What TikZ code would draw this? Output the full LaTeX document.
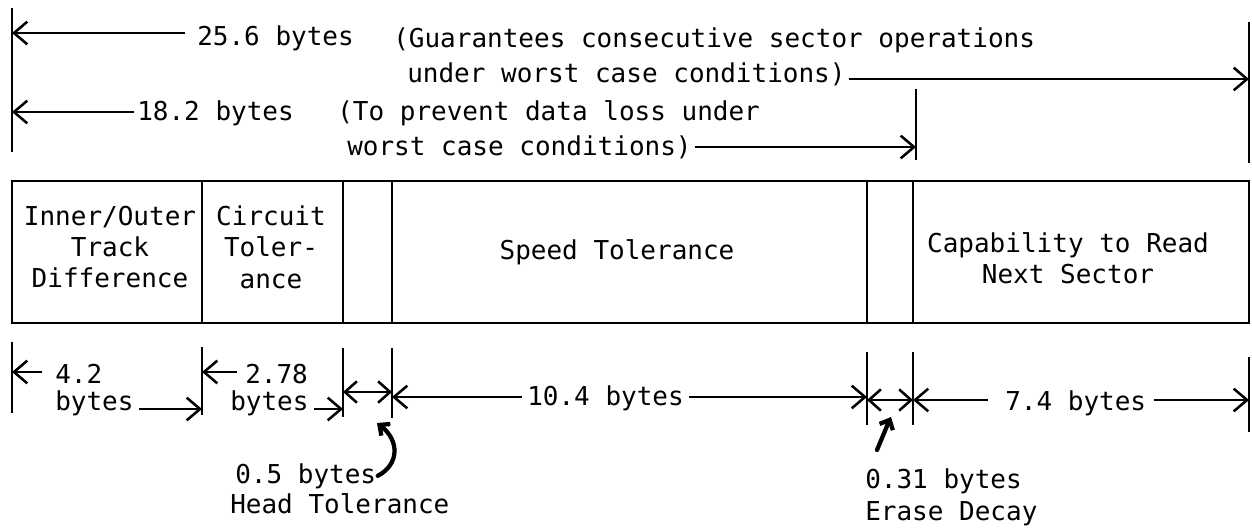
\documentclass[tikz,border=0pt]{standalone}
\usepackage{fontspec}
\newfontfamily\monofam{DejaVu Sans Mono}
\usetikzlibrary{arrows.meta}
\begin{document}
\begin{tikzpicture}[x=0.75pt,y=-0.75pt,
  lbl/.style={inner sep=0pt, font=\monofam\fontsize{19.5}{26}\selectfont},
  boxtext/.style={inner sep=0pt, align=center, font=\monofam\fontsize{19.5}{23.5}\selectfont},
  tick/.style={line width=2.2pt},
  dim/.style={line width=1.9pt},
  tip/.style={-{Straight Barb[length=10pt,width=17pt]}},
  tiptwo/.style={{Straight Barb[length=9pt,width=16pt]}-{Straight Barb[length=9pt,width=16pt]}},
  curv/.style={line width=3.2pt, line cap=round, -{Straight Barb[length=6pt,width=11pt]}},
  cell/.style={draw, line width=2.2pt, inner sep=0pt, outer sep=0pt, anchor=north west, minimum height=106.5pt}
]
\useasboundingbox (0,0) rectangle (1252,529);

% ---------- top dimension lines ----------
\coordinate (LT) at (12,33);
\coordinate (LM) at (12,112);
\coordinate (RT) at (1249,79);
\coordinate (RM) at (916,147);
\draw[tick] (12,8) -- (12,152);
\draw[tick] (1249,22) -- (1249,163);
\draw[tick] (916,89) -- (916,160);

\node[lbl, anchor=base west] (n256) at (197,45) {25.6 bytes};
\node[lbl, anchor=base west] (g1) at (393,47) {(Guarantees consecutive sector operations};
\node[lbl, anchor=base west] (g2) at (407,82) {under worst case conditions)};
\draw[dim, tip, shorten <=9pt] (n256.west |- LT) -- (LT);
\draw[dim, tip, shorten <=2pt] (g2.east |- RT) -- (RT);

\node[lbl, anchor=base west] (n182) at (137,120) {18.2 bytes};
\node[lbl, anchor=base west] (p1) at (337,120) {(To prevent data loss under};
\node[lbl, anchor=base west] (p2) at (347,155) {worst case conditions)};
\draw[dim, tip, shorten <=2pt] (n182.west |- LM) -- (LM);
\draw[dim, tip, shorten <=2pt] (p2.east |- RM) -- (RM);

% ---------- sector box ----------
\node[cell, minimum width=142.5pt] (c1) at (12,181) {};
\node[cell, minimum width=105.75pt] (c2) at (c1.north east) {};
\node[cell, minimum width=36.75pt] (c3) at (c2.north east) {};
\node[cell, minimum width=356.25pt] (c4) at (c3.north east) {};
\node[cell, minimum width=34.5pt] (c5) at (c4.north east) {};
\node[cell, minimum width=252pt] (c6) at (c5.north east) {};

\node[boxtext] (t1) at (110,247) {Inner/Outer\\Track\\Difference};
\node[boxtext] (t2) at (271,247) {Circuit\\Toler-\\ance};
\node[boxtext] (t4) at (617,252) {Speed Tolerance};
\node[boxtext] (t6) at (1068,258) {Capability to Read\\Next Sector};

% ---------- bottom dimension lines ----------
\draw[tick] (12,342) -- (12,413);
\draw[tick] (202,347) -- (202,415);
\draw[tick] (343,348) -- (343,417);
\draw[tick] (392,348) -- (392,418);
\draw[tick] (867,352) -- (867,425);
\draw[tick] (913,352) -- (913,425);
\draw[tick] (1249,357) -- (1249,432);

\coordinate (a0) at (12,372);
\coordinate (a1u) at (202,372);
\coordinate (a1l) at (202,409);
\coordinate (a2l) at (343,409);
\coordinate (h0) at (343,392);
\coordinate (h1) at (392,392);
\coordinate (s0) at (392,397);
\coordinate (s1) at (867,397);
\coordinate (e0) at (867,400);
\coordinate (e1) at (913,400);
\coordinate (r0) at (913,400);
\coordinate (r1) at (1249,400);

\node[lbl, anchor=base west] (d42) at (55,383) {4.2};
\node[lbl, anchor=base west] (d42b) at (55,410) {bytes};
\draw[dim, tip, shorten <=9.5pt] (d42.west |- a0) -- (a0);
\draw[dim, tip, shorten <=4pt] (d42b.east |- a1l) -- (a1l);

\node[lbl, anchor=base west] (d278) at (245,383) {2.78};
\node[lbl, anchor=base west] (d278b) at (230,410) {bytes};
\draw[dim, tip, shorten <=6pt] (d278.west |- a1u) -- (a1u);
\draw[dim, tip, shorten <=4pt] (d278b.east |- a2l) -- (a2l);

\draw[dim, tiptwo] (h0) -- (h1);

\node[lbl, anchor=base west] (d104) at (527,405) {10.4 bytes};
\draw[dim, tip, shorten <=4pt] (d104.west |- s0) -- (s0);
\draw[dim, tip, shorten <=4pt] (d104.east |- s1) -- (s1);

\draw[dim, tiptwo] (e0) -- (e1);

\node[lbl, anchor=base west] (d74) at (1005,410) {7.4 bytes};
\draw[dim, tip, shorten <=13pt] (d74.west |- r0) -- (r0);
\draw[dim, tip, shorten <=6pt] (d74.east |- r1) -- (r1);

% ---------- notes below ----------
\node[lbl, anchor=base west] (hb) at (235,483) {0.5 bytes};
\node[lbl, anchor=base west] (ht) at (230,513) {Head Tolerance};
\coordinate (hh) at (377,423);
\draw[curv] ([xshift=1pt]hb.east) .. controls (400,464) and (399,440) .. (hh);

\node[lbl, anchor=base west] (eb) at (865,488) {0.31 bytes};
\node[lbl, anchor=base west] (et) at (865,520) {Erase Decay};
\coordinate (ea) at (877,450);
\coordinate (eh) at (891,417);
\draw[curv] (ea) .. controls (882,436) .. (eh);
\end{tikzpicture}
\end{document}
